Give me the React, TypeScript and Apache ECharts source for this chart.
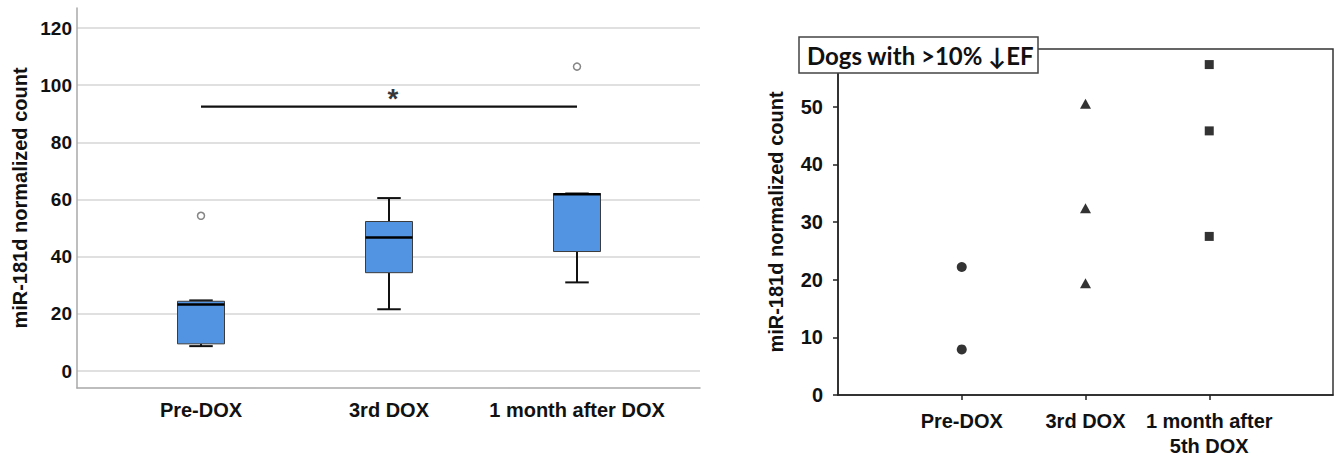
import { useEffect, useRef } from "react";
import * as echarts from "echarts";

// ---- Left panel: box plot ----
const boxCategories = ["Pre-DOX", "3rd DOX", "1 month after DOX"];
// [min, Q1, median, Q3, max]
const boxStats = [
  [8.7, 9.5, 23.3, 24.4, 24.7],
  [21.6, 34.4, 46.7, 52.3, 60.5],
  [31.0, 41.8, 61.8, 62.1, 62.1],
];
const boxOutliers = [
  ["Pre-DOX", 54.3],
  ["1 month after DOX", 106.5],
];
const sigBar = [
  ["Pre-DOX", 92.5],
  ["1 month after DOX", 92.5],
];
const sigMark = [["3rd DOX", 92.5]];
const leftYMin = 0;
const leftYMax = 120;
const leftYStep = 20;

// ---- Right panel: dogs with >10% EF drop ----
const dotCategories = ["", "Pre-DOX", "3rd DOX", "1 month after\n5th DOX", ""];
const preDox = [22.2, 7.9];
const thirdDox = [50.5, 32.4, 19.4];
const monthAfter = [57.3, 45.8, 27.5];
const rightYMin = 0;
const rightYMax = 60;
const rightYStep = 10;

const FONT = "'Liberation Sans', Arial, sans-serif";
const yName = "miR-181d normalized count";

export default function App() {
  const ref = useRef<HTMLDivElement>(null);

  useEffect(() => {
    if (!ref.current) return;
    const chart = echarts.init(ref.current, null, { renderer: "svg" });

    const boldText = (size: number) => ({
      fontFamily: FONT,
      fontWeight: "bold" as const,
      fontSize: size,
      color: "#111",
    });

    const option: any = {
      animation: false,
      backgroundColor: "#fff",
      textStyle: { fontFamily: FONT },
      grid: [
        { left: 77, top: 8, width: 623, height: 380 },
        { left: 77, top: 28, width: 623, height: 343 },
        { left: 107, top: 28, width: 564, height: 343 },
        {
          left: 838,
          top: 49,
          width: 495,
          height: 348,
          show: true,
          borderColor: "#333",
          borderWidth: 1.5,
        },
      ],
      xAxis: [
        {
          gridIndex: 0,
          type: "value",
          min: 0,
          max: 1,
          axisLine: { show: true, onZero: false, lineStyle: { color: "#a8a8a8", width: 1.5 } },
          axisTick: { show: false },
          axisLabel: { show: false },
          splitLine: { show: false },
        },
        { gridIndex: 1, type: "value", min: 0, max: 1, show: false },
        {
          gridIndex: 2,
          type: "category",
          data: boxCategories,
          axisLine: { show: false },
          axisTick: { show: false },
          axisLabel: { ...boldText(20), margin: 28, lineHeight: 22, interval: 0 },
        },
        {
          gridIndex: 3,
          type: "category",
          data: dotCategories,
          boundaryGap: false,
          axisLine: { show: true, onZero: false, lineStyle: { color: "#222", width: 1.5 } },
          axisTick: {
            show: true,
            length: 5,
            interval: (i: number) => i >= 1 && i <= 3,
            lineStyle: { color: "#222", width: 1.5 },
          },
          axisLabel: { ...boldText(20), margin: 13, lineHeight: 25, interval: 0 },
          splitLine: { show: false },
        },
      ],
      yAxis: [
        {
          gridIndex: 0,
          type: "value",
          min: 0,
          max: 1,
          name: yName,
          nameLocation: "middle",
          nameGap: 47,
          nameRotate: 90,
          nameTextStyle: boldText(20),
          axisLine: { show: true, onZero: false, lineStyle: { color: "#a8a8a8", width: 1.5 } },
          axisTick: { show: false },
          axisLabel: { show: false },
          splitLine: { show: false },
        },
        {
          gridIndex: 1,
          type: "value",
          min: leftYMin,
          max: leftYMax,
          interval: leftYStep,
          axisLine: { show: false },
          axisTick: { show: false },
          axisLabel: { ...boldText(19), margin: 5 },
          splitLine: { show: true, lineStyle: { color: "#d6d6d6", width: 1.5 } },
        },
        { gridIndex: 2, type: "value", min: leftYMin, max: leftYMax, show: false },
        {
          gridIndex: 3,
          type: "value",
          min: rightYMin,
          max: rightYMax,
          interval: rightYStep,
          name: yName,
          nameLocation: "middle",
          nameGap: 52,
          nameRotate: 90,
          nameTextStyle: boldText(20),
          axisLine: { show: true, onZero: false, lineStyle: { color: "#222", width: 1.5 } },
          axisTick: { show: true, length: 5, lineStyle: { color: "#222", width: 1.5 } },
          axisLabel: { ...boldText(20), margin: 15, showMaxLabel: false },
          splitLine: { show: false },
        },
      ],
      graphic: [
        {
          type: "rect",
          shape: { x: 799, y: 37, width: 239, height: 36 },
          style: { fill: "#fff", stroke: "#444", lineWidth: 1.5 },
          z: 100,
        },
        {
          type: "text",
          x: 807,
          y: 55,
          style: {
            text: "Dogs with >10% ↓EF",
            fontFamily: "Lato, 'DejaVu Sans', sans-serif",
            fontWeight: "bold",
            fontSize: 24,
            fill: "#111",
            textVerticalAlign: "middle",
            verticalAlign: "middle",
          },
          z: 101,
        },
      ],
      series: [
        {
          type: "custom",
          xAxisIndex: 2,
          yAxisIndex: 2,
          data: boxStats.map((s, i) => [i, ...s]),
          encode: { x: 0, y: [1, 2, 3, 4, 5] },
          renderItem: (_params: any, api: any) => {
            const x = api.value(0);
            const pMin = api.coord([x, api.value(1)]);
            const pQ1 = api.coord([x, api.value(2)]);
            const pMed = api.coord([x, api.value(3)]);
            const pQ3 = api.coord([x, api.value(4)]);
            const pMax = api.coord([x, api.value(5)]);
            const band = api.size([1, 0])[0];
            const bw = band * 0.25;
            const cw = band * 0.125;
            const cx = pMed[0];
            const whisker = { stroke: "#111", lineWidth: 2 };
            return {
              type: "group",
              children: [
                { type: "line", shape: { x1: cx, y1: pMax[1], x2: cx, y2: pQ3[1] }, style: whisker },
                { type: "line", shape: { x1: cx, y1: pQ1[1], x2: cx, y2: pMin[1] }, style: whisker },
                { type: "line", shape: { x1: cx - cw / 2, y1: pMax[1], x2: cx + cw / 2, y2: pMax[1] }, style: whisker },
                { type: "line", shape: { x1: cx - cw / 2, y1: pMin[1], x2: cx + cw / 2, y2: pMin[1] }, style: whisker },
                {
                  type: "rect",
                  shape: { x: cx - bw / 2, y: pQ3[1], width: bw, height: pQ1[1] - pQ3[1] },
                  style: { fill: "#5294e2", stroke: "#3c3c3c", lineWidth: 1 },
                },
                {
                  type: "line",
                  shape: { x1: cx - bw / 2, y1: pMed[1], x2: cx + bw / 2, y2: pMed[1] },
                  style: { stroke: "#000", lineWidth: 2.5 },
                },
              ],
            };
          },
          z: 3,
        },
        {
          type: "scatter",
          xAxisIndex: 2,
          yAxisIndex: 2,
          data: boxOutliers,
          symbol: "circle",
          symbolSize: 7,
          itemStyle: { color: "#fff", borderColor: "#666", borderWidth: 1.5 },
          z: 4,
        },
        {
          type: "line",
          xAxisIndex: 2,
          yAxisIndex: 2,
          data: sigBar,
          symbol: "none",
          lineStyle: { color: "#111", width: 2.2 },
          z: 4,
        },
        {
          type: "scatter",
          xAxisIndex: 2,
          yAxisIndex: 2,
          data: sigMark,
          symbolSize: 1,
          itemStyle: { color: "rgba(0,0,0,0)" },
          label: {
            show: true,
            formatter: "*",
            position: "inside",
            offset: [4, -8],
            fontFamily: FONT,
            fontWeight: "bold",
            fontSize: 28,
            color: "#000",
          },
          z: 4,
        },
        {
          type: "scatter",
          xAxisIndex: 3,
          yAxisIndex: 3,
          data: preDox.map((v) => [dotCategories[1], v]),
          symbol: "circle",
          symbolSize: 10,
          itemStyle: { color: "#000" },
        },
        {
          type: "scatter",
          xAxisIndex: 3,
          yAxisIndex: 3,
          data: thirdDox.map((v) => [dotCategories[2], v]),
          symbol: "triangle",
          symbolSize: [11, 10],
          itemStyle: { color: "#000" },
        },
        {
          type: "scatter",
          xAxisIndex: 3,
          yAxisIndex: 3,
          data: monthAfter.map((v) => [dotCategories[3], v]),
          symbol: "rect",
          symbolSize: 9,
          itemStyle: { color: "#000" },
        },
      ],
    };

    chart.setOption(option);
    return () => chart.dispose();
  }, []);

  return (
    <div
      ref={ref}
      style={{ position: "fixed", left: 0, top: 0, width: 1338, height: 458, background: "#fff" }}
    />
  );
}
